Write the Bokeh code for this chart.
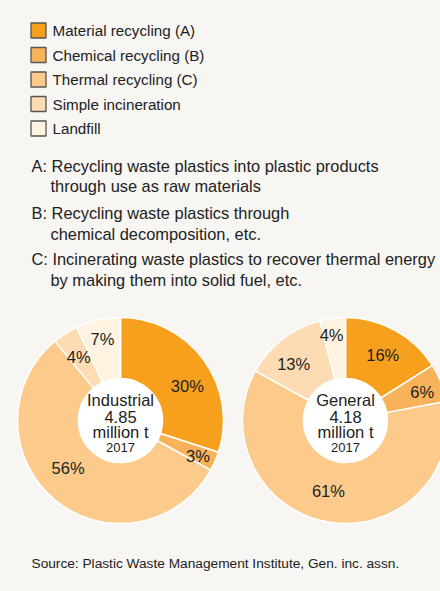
import math
from bokeh.plotting import figure
from bokeh.models import Range1d, ColumnDataSource
from bokeh.core.properties import value
from bokeh.embed import file_html
from bokeh.resources import INLINE

# ---- data ----
categories = ["Material recycling (A)", "Chemical recycling (B)", "Thermal recycling (C)",
              "Simple incineration", "Landfill"]
industrial_pct = [30, 3, 56, 4, 7]
general_pct = [16, 6, 61, 13, 4]
donut_titles = ["Industrial", "General"]
donut_amounts = ["4.85", "4.18"]
donut_unit = "million t"
donut_year = "2017"
notes = [
    ("A: Recycling waste plastics into plastic products", "through use as raw materials"),
    ("B: Recycling waste plastics through", "chemical decomposition, etc."),
    ("C: Incinerating waste plastics to recover thermal energy", "by making them into solid fuel, etc."),
]
source_text = "Source: Plastic Waste Management Institute, Gen. inc. assn."

# ---- style / layout ----
colors = ["#f6a01e", "#f8b35a", "#fccb8b", "#fddcb3", "#fef2e1"]
BG = "#f7f6f3"
TXT = "#222222"
FONT = value("Liberation Sans")
W, H = 440, 591

def Y(y):
    return H - y

p = figure(width=W, height=H, output_backend="svg", toolbar_location=None,
           x_range=Range1d(0, W), y_range=Range1d(0, H), min_border=0)
p.axis.visible = False
p.grid.visible = False
p.outline_line_color = None
p.background_fill_color = BG
p.border_fill_color = BG

# legend
leg_y = [30 + 24.5 * i for i in range(len(categories))]
p.rect(x=[38] * len(categories), y=[Y(v) for v in leg_y], width=15, height=15,
       width_units="screen", height_units="screen",
       fill_color=colors, line_color="#555555", line_width=1.3)
p.text(x=[52] * len(categories), y=[Y(v) for v in leg_y], text=categories,
       text_font=FONT, text_font_size="15.2px", text_color=TXT,
       text_baseline="middle", text_align="left")

# notes
note_y = [(165, 185), (212, 233), (258, 279)]
for (l1, l2), (y1, y2) in zip(notes, note_y):
    p.text(x=[31, 50], y=[Y(y1), Y(y2)], text=[l1, l2], text_font=FONT,
           text_font_size="16.4px", text_color=TXT, text_baseline="middle", text_align="left")

# donuts
centers = [(120, 420), (345, 420)]
R_OUT, R_IN = 103, 42
label_r = [[75, 85, 71, 76, 83], [75, 82, 73, 77, 87]]
label_nudge = [[9, 1, 8, -1, 0], [1, 1, 4.5, -4.5, -2]]

for k, pct in enumerate([industrial_pct, general_pct]):
    cx, cy = centers[k]
    total = float(sum(pct))
    starts, ends, mids = [], [], []
    acc = 0.0
    for v in pct:
        a0 = acc / total
        a1 = (acc + v) / total
        starts.append(math.pi / 2 - 2 * math.pi * a0)
        ends.append(math.pi / 2 - 2 * math.pi * a1)
        mids.append((a0 + a1) / 2 * 360)
        acc += v
    src = ColumnDataSource(dict(start=starts, end=ends, color=colors))
    p.annular_wedge(x=cx, y=Y(cy), inner_radius=R_IN, outer_radius=R_OUT,
                    inner_radius_units="screen", outer_radius_units="screen",
                    start_angle="start", end_angle="end", direction="clock",
                    fill_color="color", line_color="white", line_width=1.5, source=src)
    p.scatter(x=[cx], y=[Y(cy)], size=2 * R_IN, marker="circle",
              fill_color="white", line_color="white", line_width=1)
    lx, ly, lt = [], [], []
    for i, v in enumerate(pct):
        ang = math.radians(mids[i] + label_nudge[k][i])
        r = label_r[k][i]
        lx.append(cx + r * math.sin(ang))
        ly.append(Y(cy - r * math.cos(ang)))
        lt.append(f"{v}%")
    p.text(x=lx, y=ly, text=lt, text_font=FONT, text_font_size="16.5px", text_color=TXT,
           text_align="center", text_baseline="middle")
    p.text(x=[cx, cx, cx], y=[Y(cy - 21), Y(cy - 4), Y(cy + 11)],
           text=[donut_titles[k], donut_amounts[k], donut_unit],
           text_font=FONT, text_font_size="16.5px", text_color=TXT,
           text_align="center", text_baseline="middle")
    p.text(x=[cx], y=[Y(cy + 27)], text=[donut_year], text_font=FONT,
           text_font_size="13px", text_color=TXT, text_align="center", text_baseline="middle")

# source
p.text(x=[31], y=[Y(563)], text=[source_text], text_font=FONT, text_font_size="13.7px",
       text_color=TXT, text_align="left", text_baseline="middle")

open("out.html", "w").write(file_html(p, INLINE))
